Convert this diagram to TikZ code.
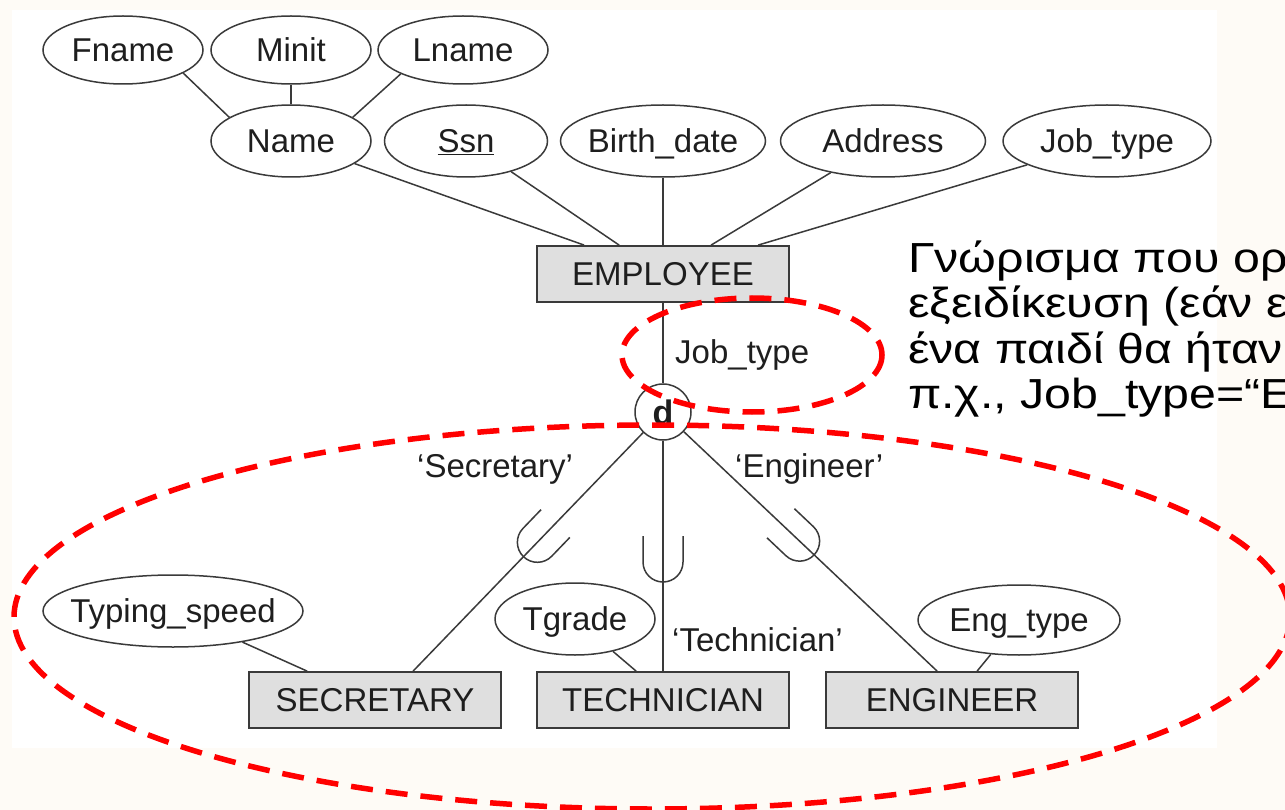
\documentclass[tikz,border=0pt]{standalone}
\usepackage{fontspec}
\setmainfont{Liberation Sans}
\newfontfamily\notefamily[FakeStretch=1.15]{Liberation Sans}
\usetikzlibrary{shapes.geometric,calc}

\definecolor{ink}{HTML}{3A3A3A}
\definecolor{txt}{HTML}{1E1E1E}
\definecolor{entfill}{HTML}{DFDFDF}
\definecolor{mark}{HTML}{FF0000}
\definecolor{slide}{HTML}{FEFBF6}

\newcommand\erfont{\fontsize{33}{40}\selectfont}
\newcommand\notefont{\notefamily\fontsize{42}{45}\selectfont}
\newcommand\ctr[1]{\makebox[0pt]{#1}}

\begin{document}
\begin{tikzpicture}[x=1pt,y=-1pt,
  attr/.style={ellipse, draw=ink, line width=1.5pt, fill=white, inner sep=0pt,
    font=\erfont, text=txt, text height=23.6pt, text depth=0pt},
  entity/.style={rectangle, draw=ink, line width=1.8pt, fill=entfill, inner sep=0pt,
    minimum width=252pt, minimum height=56pt,
    font=\erfont, text=txt, text height=23.6pt, text depth=0pt},
  disjoint/.style={circle, draw=ink, line width=1.5pt, fill=white, inner sep=0pt,
    minimum size=56pt, font=\fontsize{34}{40}\selectfont\bfseries, text=txt,
    text height=24pt, text depth=0pt},
  link/.style={draw=ink, line width=1.5pt},
  role/.style={font=\erfont, text=txt, inner sep=0pt, anchor=base west},
  note/.style={font=\notefont, text=black, inner sep=0pt, anchor=base west},
  hint/.style={draw=mark, line width=5.5pt, dash pattern=on 22pt off 13pt},
]
\useasboundingbox (0,0) rectangle (1285,810);
\clip (0,0) rectangle (1285,810);

% slide background and the white figure area
\fill[slide] (0,0) rectangle (1285,810);
\fill[white] (12,10) rectangle (1217,748);

% composite attribute Name
\node[attr, minimum width=160pt, minimum height=68pt] (fname) at (123,50) {\ctr{Fname}};
\node[attr, minimum width=160pt, minimum height=68pt] (minit) at (291,50) {\ctr{Minit}};
\node[attr, minimum width=170pt, minimum height=68pt] (lname) at (463,50) {\ctr{Lname}};

% attributes of EMPLOYEE
\node[attr, minimum width=160pt, minimum height=72pt] (name)  at (291,141) {\ctr{Name}};
\node[attr, minimum width=163pt, minimum height=72pt] (ssn)   at (466,141) {\ctr{\underline{Ssn}}};
\node[attr, minimum width=205pt, minimum height=72pt] (birth) at (663,141) {\ctr{Birth\_date}};
\node[attr, minimum width=205pt, minimum height=72pt] (addr)  at (883,141) {\ctr{Address}};
\node[attr, minimum width=208pt, minimum height=72pt] (jtype) at (1107,141) {\ctr{Job\_type}};

% entities
\node[entity] (emp)  at (663,274) {EMPLOYEE};
\node[entity] (sec)  at (375,700) {SECRETARY};
\node[entity] (tech) at (663,700) {TECHNICIAN};
\node[entity] (eng)  at (952,700) {ENGINEER};

% specialization circle
\node[disjoint] (d) at (663,412) {d};

% attributes of the subclasses
\node[attr, minimum width=260pt, minimum height=72pt] (typing)  at (173,611) {\ctr{Typing\_speed}};
\node[attr, minimum width=160pt, minimum height=72pt] (tgrade)  at (575,619) {\ctr{Tgrade}};
\node[attr, minimum width=202pt, minimum height=70pt] (engtype) at (1019,620) {\ctr{Eng\_type}};

% attachment points on the entity boxes
\coordinate (empA) at ($(emp.north west)+(48,0)$);
\coordinate (empB) at ($(emp.north west)+(83,0)$);
\coordinate (empD) at ($(emp.north west)+(175,0)$);
\coordinate (empE) at ($(emp.north west)+(222,0)$);
\coordinate (secin)  at ($(sec.north west)+(165,0)$);
\coordinate (secat)  at ($(sec.north west)+(59,0)$);
\coordinate (techat) at ($(tech.north west)+(100,0)$);
\coordinate (engin)  at ($(eng.north west)+(112,0)$);
\coordinate (engat)  at ($(eng.north west)+(152,0)$);

% connectors
\draw[link] (fname.-21) -- (name.159);
\draw[link] (minit.south) -- (name.north);
\draw[link] (lname.201) -- (name.21);
\draw[link] (name) -- (empA);
\draw[link] (ssn) -- (empB);
\draw[link] (birth.south) -- (emp.north);
\draw[link] (addr) -- (empD);
\draw[link] (jtype) -- (empE);
\draw[link] (emp.south) -- (d.north);
\draw[link] (d) -- (secin);
\draw[link] (d) -- (tech.north);
\draw[link] (d) -- (engin);
\draw[link] (typing) -- (secat);
\draw[link] (tgrade) -- (techat);
\draw[link] (engtype) -- (engat);

% subset marks on the specialization lines
\draw[link, shift={($(d.center)!155pt!(secin)$)}, rotate=-43.9]
  (-20,0) -- (-20,26) arc[start angle=180, end angle=0, radius=20] -- (20,0);
\draw[link, shift={($(d.center)!124pt!(tech.north)$)}]
  (-20,0) -- (-20,26) arc[start angle=180, end angle=0, radius=20] -- (20,0);
\draw[link, shift={($(d.center)!162pt!(engin)$)}, rotate=46.6]
  (-20,0) -- (-20,26) arc[start angle=180, end angle=0, radius=20] -- (20,0);

% defining attribute and predicate labels
\node[role] (defattr) at (675,363) {Job\_type};
\node[role] (lsec)  at (417,477) {‘Secretary’};
\node[role] (leng)  at (735,477) {‘Engineer’};
\node[role] (ltech) at (672,651) {‘Technician’};

% highlight rings
\draw[hint] (752,355) ellipse [x radius=130, y radius=57];
\draw[hint] (652,617) ellipse [x radius=638, y radius=192];

% explanatory note
\node[note] (note1) at (908,273) {Γνώρισμα που ορ};
\node[note] (note2) at (908,318) {εξειδίκευση (εάν ε};
\node[note] (note3) at (908,363) {ένα παιδί θα ήταν};
\node[note] (note4) at (908,408) {π.χ., Job\_type=“E};
\end{tikzpicture}
\end{document}
